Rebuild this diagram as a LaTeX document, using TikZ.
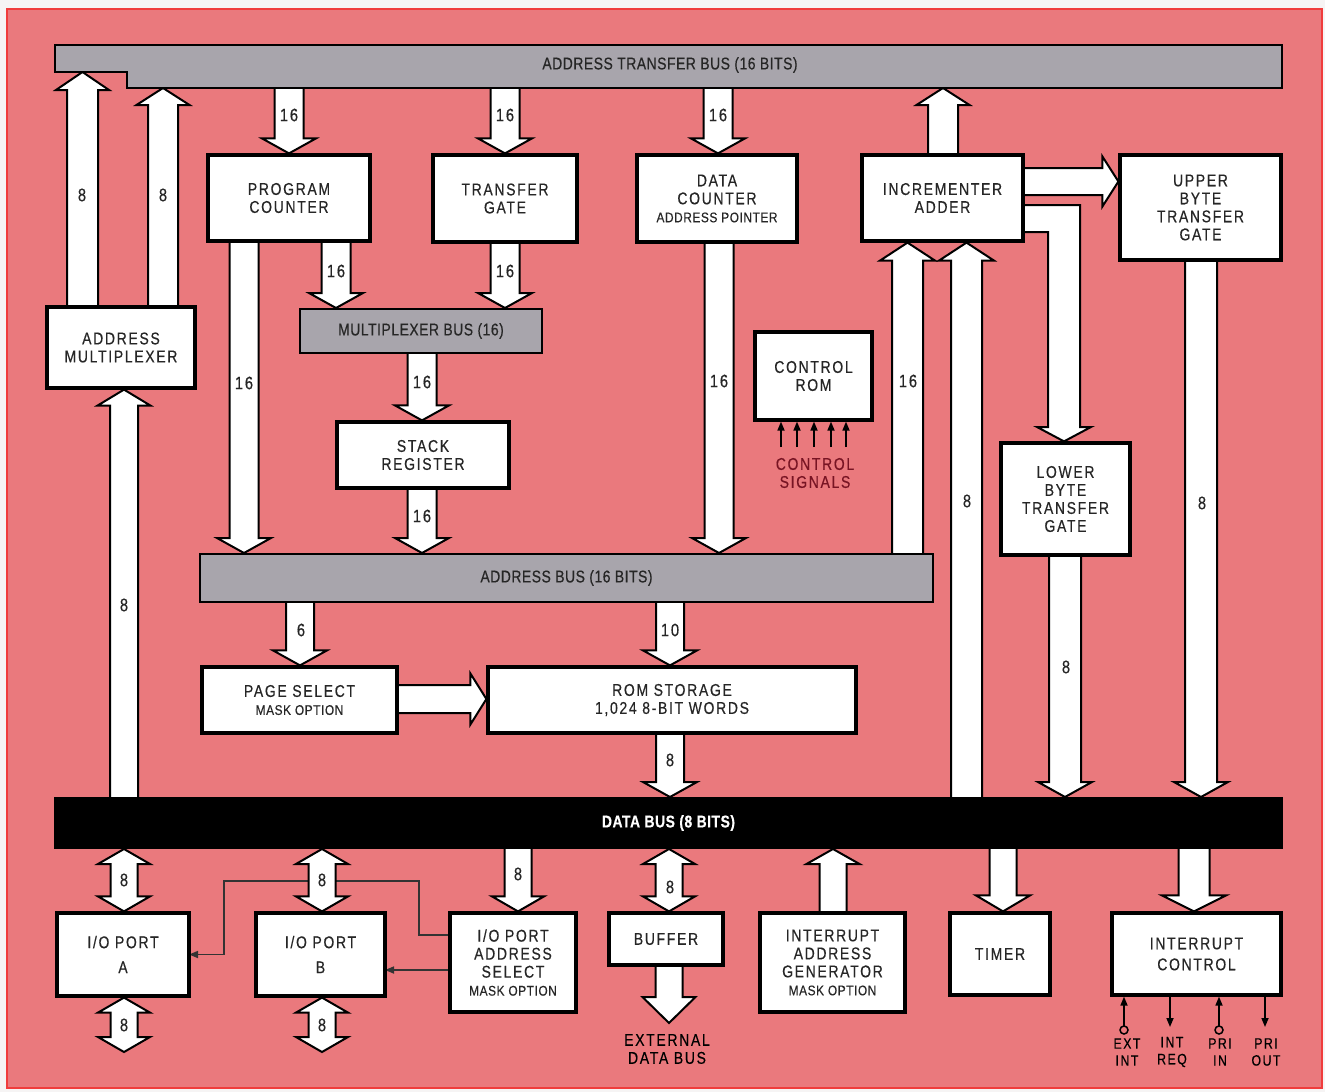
\documentclass[tikz,border=0pt]{standalone}
\usepackage{fontspec}
\newfontfamily\labfont{Liberation Sans}[FakeStretch=0.82,LetterSpace=10,FakeBold=0.4]
\newfontfamily\busfont{Liberation Sans}[FakeStretch=0.82,LetterSpace=3,FakeBold=0.4]
\newfontfamily\smfont{Liberation Sans}[FakeStretch=0.85,LetterSpace=4,FakeBold=0.3]
\usetikzlibrary{calc,arrows.meta}
\definecolor{bgred}{RGB}{234,121,125}
\definecolor{edgered}{RGB}{240,60,60}
\definecolor{pagebg}{RGB}{246,244,244}
\definecolor{busgray}{RGB}{168,165,172}
\definecolor{sigred}{RGB}{120,20,35}
\newcommand\labtext{\labfont\fontsize{17}{18}\selectfont}
\newcommand\numtext{\labfont\fontsize{18}{18}\selectfont}
\newcommand\bustext{\busfont\fontsize{17}{18}\selectfont}
\newcommand\smtext{\smfont\fontsize{14}{18}\selectfont}
\newcommand\tinytext{\labfont\fontsize{15}{17}\selectfont}
\newcommand\setfat[3]{\def\fHS{#1}\def\fHH{#2}\def\fHL{#3}}
\setfat{14.5}{27}{15}
% single fat arrow from #1 to #2
\newcommand\fat[2]{%
  \draw[fatarrow] let \p1=(#1), \p2=(#2),
    \n1={atan2(\y2-\y1,\x2-\x1)}, \n2={veclen(\x2-\x1,\y2-\y1)} in
    {[shift={(\p1)},rotate=\n1]
    (0,-\fHS) -- ({\n2-\fHL},-\fHS) -- ({\n2-\fHL},-\fHH) -- ({\n2},0)
    -- ({\n2-\fHL},\fHH) -- ({\n2-\fHL},\fHS) -- (0,\fHS)};}
% double fat arrow
\newcommand\dfat[2]{%
  \draw[fatarrow] let \p1=(#1), \p2=(#2),
    \n1={atan2(\y2-\y1,\x2-\x1)}, \n2={veclen(\x2-\x1,\y2-\y1)} in
    {[shift={(\p1)},rotate=\n1]
    (0,0) -- (\fHL,\fHH) -- (\fHL,\fHS) -- ({\n2-\fHL},\fHS) -- ({\n2-\fHL},\fHH)
    -- ({\n2},0) -- ({\n2-\fHL},-\fHH) -- ({\n2-\fHL},-\fHS) -- (\fHL,-\fHS)
    -- (\fHL,-\fHH) -- cycle};}
\newcommand\boxat[7][box]{%
  \pgfmathsetmacro\Bw{#5-#3}\pgfmathsetmacro\Bh{#6-#4}%
  \pgfmathsetmacro\Bx{(#3+#5)/2}\pgfmathsetmacro\By{-(#4+#6)/2}%
  \node[#1,minimum width=\Bw pt,minimum height=\Bh pt] (#2) at (\Bx,\By) {#7};}
\tikzset{
  box/.style={draw=black,line width=3.2pt,fill=white,inner sep=0pt,align=center,font=\labtext,text=black!85},
  bus/.style={draw=black,line width=2pt,fill=busgray,inner sep=0pt,align=center,font=\bustext,text=black!85},
  dbus/.style={draw=black,line width=2pt,fill=black,inner sep=0pt,align=center,font=\bustext\bfseries,text=white},
  fatarrow/.style={draw=black,line width=2pt,fill=white,line join=miter},
  num/.style={font=\numtext,inner sep=0pt,text=black!85},
  sig/.style={draw=black,line width=1.6pt,-{Triangle[length=9pt,width=7pt]}},
  thinln/.style={draw=black!80,line width=1.6pt,-{Triangle[length=9pt,width=7pt]}},
}
\begin{document}
\begin{tikzpicture}[x=1pt,y=1pt]
\useasboundingbox (0,0) rectangle (1325,-1092);
\fill[pagebg] (0,0) rectangle (1325,-1092);
\fill[bgred] (7,-9) rectangle (1322,-1088);
\draw[edgered,line width=2pt] (7,-9) rectangle (1322,-1088);

% ---------- thin select lines (behind the fat arrows)
\coordinate (selA) at (450,-935);
\coordinate (selB) at (450,-970);
\draw[thinln] (selA) -- (419,-935) -- (419,-881) -- (224,-881) -- (224,-954.5) -- (189,-954.5);
\draw[thinln] (selB) -- (385,-970);

% ---------- invisible nodes for anchors
\begin{scope}[box/.append style={draw=none,fill=none,opacity=0},
              bus/.append style={draw=none,fill=none,opacity=0},
              dbus/.append style={draw=none,fill=none,opacity=0}]
\boxat{amux}{47}{307}{195}{388}{}
\boxat{pc}{208}{155}{370}{241}{}
\boxat{tg}{433}{155}{577}{242}{}
\boxat{dc}{637}{155}{797}{242}{}
\boxat{inc}{862}{155}{1023}{241}{}
\boxat{ubtg}{1120}{155}{1281}{260}{}
\boxat{stack}{337}{422}{509}{488}{}
\boxat{crom}{755}{332}{872}{420}{}
\boxat{lbtg}{1001}{443}{1130}{555}{}
\boxat{psel}{202}{667}{397}{733}{}
\boxat{rom}{488}{667}{856}{733}{}
\boxat{ioa}{57}{913}{189}{996}{}
\boxat{iob}{256}{913}{385}{996}{}
\boxat{iosel}{450}{913}{576}{1012}{}
\boxat{buf}{609}{913}{723}{965}{}
\boxat{iag}{760}{913}{905}{1012}{}
\boxat{timer}{950}{913}{1050}{995}{}
\boxat{intc}{1112}{913}{1281}{995}{}
\boxat[bus]{abus}{200}{554}{933}{602}{}
\boxat[bus]{mbus}{300}{309}{542}{353}{}
\boxat[dbus]{dbus}{55}{798}{1282}{848}{}
\end{scope}
\coordinate (atbL) at (55,-72);
\coordinate (atbR) at (127,-88);

% ---------- fat arrows
\setfat{15.5}{26.5}{18}
\fat{82.5,0 |- amux.north}{82.5,0 |- atbL}
\setfat{15}{26.5}{17}
\fat{163,0 |- amux.north}{163,0 |- atbR}
\setfat{14.5}{27}{15}
\fat{289,0 |- atbR}{289,0 |- pc.north}
\fat{505,0 |- atbR}{505,0 |- tg.north}
\fat{718,0 |- atbR}{718,0 |- dc.north}
\setfat{15}{26.5}{17}
\fat{943,0 |- inc.north}{943,0 |- atbR}
\setfat{14.5}{27}{15}
\fat{244,0 |- pc.south}{244,0 |- abus.north}
\fat{336,0 |- pc.south}{336,0 |- mbus.north}
\fat{505,0 |- tg.south}{505,0 |- mbus.north}
\fat{422,0 |- mbus.south}{422,0 |- stack.north}
\fat{422,0 |- stack.south}{422,0 |- abus.north}
\fat{719,0 |- dc.south}{719,0 |- abus.north}
\setfat{15.5}{27.5}{18}
\fat{907.5,0 |- abus.north}{907.5,0 |- inc.south}
\fat{966.5,0 |- dbus.north}{966.5,0 |- inc.south}
\setfat{16}{27}{15}
\fat{1065,0 |- lbtg.south}{1065,0 |- dbus.north}
\fat{1201,0 |- ubtg.south}{1201,0 |- dbus.north}
\setfat{14}{27}{15}
\fat{300,0 |- abus.south}{300,0 |- psel.north}
\fat{670,0 |- abus.south}{670,0 |- rom.north}
\fat{670,0 |- rom.south}{670,0 |- dbus.north}
\setfat{14}{26.5}{16}
\fat{124,0 |- dbus.north}{124,0 |- amux.south}
\setfat{13.5}{25}{16}
\fat{inc.east |- 0,-181.5}{ubtg.west |- 0,-181.5}
\setfat{14}{25.5}{16}
\fat{psel.east |- 0,-699}{rom.west |- 0,-699}
% elbow incrementer -> lower byte gate
\draw[fatarrow] (inc.east |- 0,-205) -- (1080,-205) -- (1080,-427) -- (1091,-427)
   -- (1064,0 |- lbtg.north) -- (1037,-427) -- (1048,-427) -- (1048,-232) -- (inc.east |- 0,-232);
% bottom row
\coordinate (ioaOut) at (124,-1052);
\coordinate (iobOut) at (322,-1052);
\coordinate (extOut) at (669,-1023);
\setfat{13.5}{26}{15}
\dfat{124,0 |- dbus.south}{124,0 |- ioa.north}
\dfat{124,0 |- ioa.south}{ioaOut}
\dfat{322,0 |- dbus.south}{322,0 |- iob.north}
\dfat{322,0 |- iob.south}{iobOut}
\fat{518,0 |- dbus.south}{518,0 |- iosel.north}
\dfat{669,0 |- dbus.south}{669,0 |- buf.north}
\setfat{13.5}{26.5}{26}
\fat{669,0 |- buf.south}{extOut}
\setfat{13.5}{26.5}{15}
\fat{833,0 |- iag.north}{833,0 |- dbus.south}
\setfat{13.5}{27}{16}
\fat{1003,0 |- dbus.south}{1003,0 |- timer.north}
\setfat{15.5}{32}{16}
\fat{1194,0 |- dbus.south}{1194,0 |- intc.north}

% ---------- buses
\draw[line width=2pt,fill=busgray] (55,-45) -- (1282,-45) -- (1282,-88) -- (127,-88) -- (127,-72) -- (55,-72) -- cycle;
\node[font=\bustext,text=black!85,inner sep=0pt] (atb) at (670,-65) {ADDRESS TRANSFER BUS (16 BITS)};
\boxat[bus]{abus}{200}{554}{933}{602}{ADDRESS BUS (16 BITS)}
\boxat[bus]{mbus}{300}{309}{542}{353}{MULTIPLEXER BUS (16)}
\boxat[dbus]{dbus}{55}{798}{1282}{848}{DATA BUS (8 BITS)}

% ---------- boxes
\boxat{amux}{47}{307}{195}{388}{ADDRESS\\MULTIPLEXER}
\boxat{pc}{208}{155}{370}{241}{PROGRAM\\COUNTER}
\boxat{tg}{433}{155}{577}{242}{TRANSFER\\GATE}
\boxat{dc}{637}{155}{797}{242}{DATA\\COUNTER\\{\smtext ADDRESS POINTER}}
\boxat{inc}{862}{155}{1023}{241}{INCREMENTER\\ADDER}
\boxat{ubtg}{1120}{155}{1281}{260}{UPPER\\BYTE\\TRANSFER\\GATE}
\boxat{stack}{337}{422}{509}{488}{STACK\\REGISTER}
\boxat{crom}{755}{332}{872}{420}{CONTROL\\ROM}
\boxat{lbtg}{1001}{443}{1130}{555}{LOWER\\BYTE\\TRANSFER\\GATE}
\boxat{psel}{202}{667}{397}{733}{PAGE SELECT\\{\smtext MASK OPTION}}
\boxat{rom}{488}{667}{856}{733}{ROM STORAGE\\1,024 8-BIT WORDS}
\boxat{ioa}{57}{913}{189}{996}{I/O PORT\\[7pt]A}
\boxat{iob}{256}{913}{385}{996}{I/O PORT\\[7pt]B}
\boxat{iosel}{450}{913}{576}{1012}{I/O PORT\\ADDRESS\\SELECT\\{\smtext MASK OPTION}}
\boxat{buf}{609}{913}{723}{965}{BUFFER}
\boxat{iag}{760}{913}{905}{1012}{INTERRUPT\\ADDRESS\\GENERATOR\\{\smtext MASK OPTION}}
\boxat{timer}{950}{913}{1050}{995}{TIMER}
\boxat{intc}{1112}{913}{1281}{995}{INTERRUPT\\[3pt]CONTROL}

% ---------- control signals
\foreach \xx in {781,797,814,831,846}{
  \coordinate (cs\xx) at (\xx,-447);
  \draw[sig] (cs\xx) -- (\xx,0 |- crom.south);
}
\node[font=\labtext,text=sigred,align=center,inner sep=0pt] (cslab) at (815,-473) {CONTROL\\SIGNALS};

% ---------- interrupt control signals
\coordinate (extint) at (1124,-1026);
\coordinate (intreq) at (1170,-1027);
\coordinate (priin) at (1219,-1026);
\coordinate (priout) at (1265,-1027);
\draw[sig] (extint) -- (1124,0 |- intc.south);
\draw[sig] (priin) -- (1219,0 |- intc.south);
\draw[sig] (1170,0 |- intc.south) -- (intreq);
\draw[sig] (1265,0 |- intc.south) -- (priout);
\draw[line width=1.5pt,fill=bgred] (1124,-1030) circle (4);
\draw[line width=1.5pt,fill=bgred] (1219,-1030) circle (4);
\node[font=\tinytext,align=center,inner sep=0pt] (l1) at (1127,-1052) {EXT\\INT};
\node[font=\tinytext,align=center,inner sep=0pt] (l2) at (1172,-1052) {INT\\REQ};
\node[font=\tinytext,align=center,inner sep=0pt] (l3) at (1220,-1052) {PRI\\IN};
\node[font=\tinytext,align=center,inner sep=0pt] (l4) at (1266,-1052) {PRI\\OUT};
\node[font=\labtext,align=center,inner sep=0pt] (ext) at (667,-1049) {EXTERNAL\\DATA BUS};

% ---------- width labels
\node[num] (n1) at (82,-195) {8};
\node[num] (n2) at (163,-195) {8};
\node[num] (n3) at (289,-115) {16};
\node[num] (n4) at (505,-115) {16};
\node[num] (n5) at (718,-115) {16};
\node[num] (n6) at (336,-271) {16};
\node[num] (n7) at (505,-271) {16};
\node[num] (n8) at (244,-383) {16};
\node[num] (n9) at (422,-382) {16};
\node[num] (n10) at (422,-516) {16};
\node[num] (n11) at (719,-381) {16};
\node[num] (n12) at (908,-381) {16};
\node[num] (n13) at (967,-501) {8};
\node[num] (n14) at (1202,-503) {8};
\node[num] (n15) at (1066,-667) {8};
\node[num] (n16) at (124,-605) {8};
\node[num] (n17) at (301,-630) {6};
\node[num] (n18) at (670,-630) {10};
\node[num] (n19) at (670,-760) {8};
\node[num] (n20) at (124,-880) {8};
\node[num] (n21) at (124,-1025) {8};
\node[num] (n22) at (322,-880) {8};
\node[num] (n23) at (322,-1025) {8};
\node[num] (n24) at (518,-874) {8};
\node[num] (n25) at (670,-887) {8};
\end{tikzpicture}
\end{document}
